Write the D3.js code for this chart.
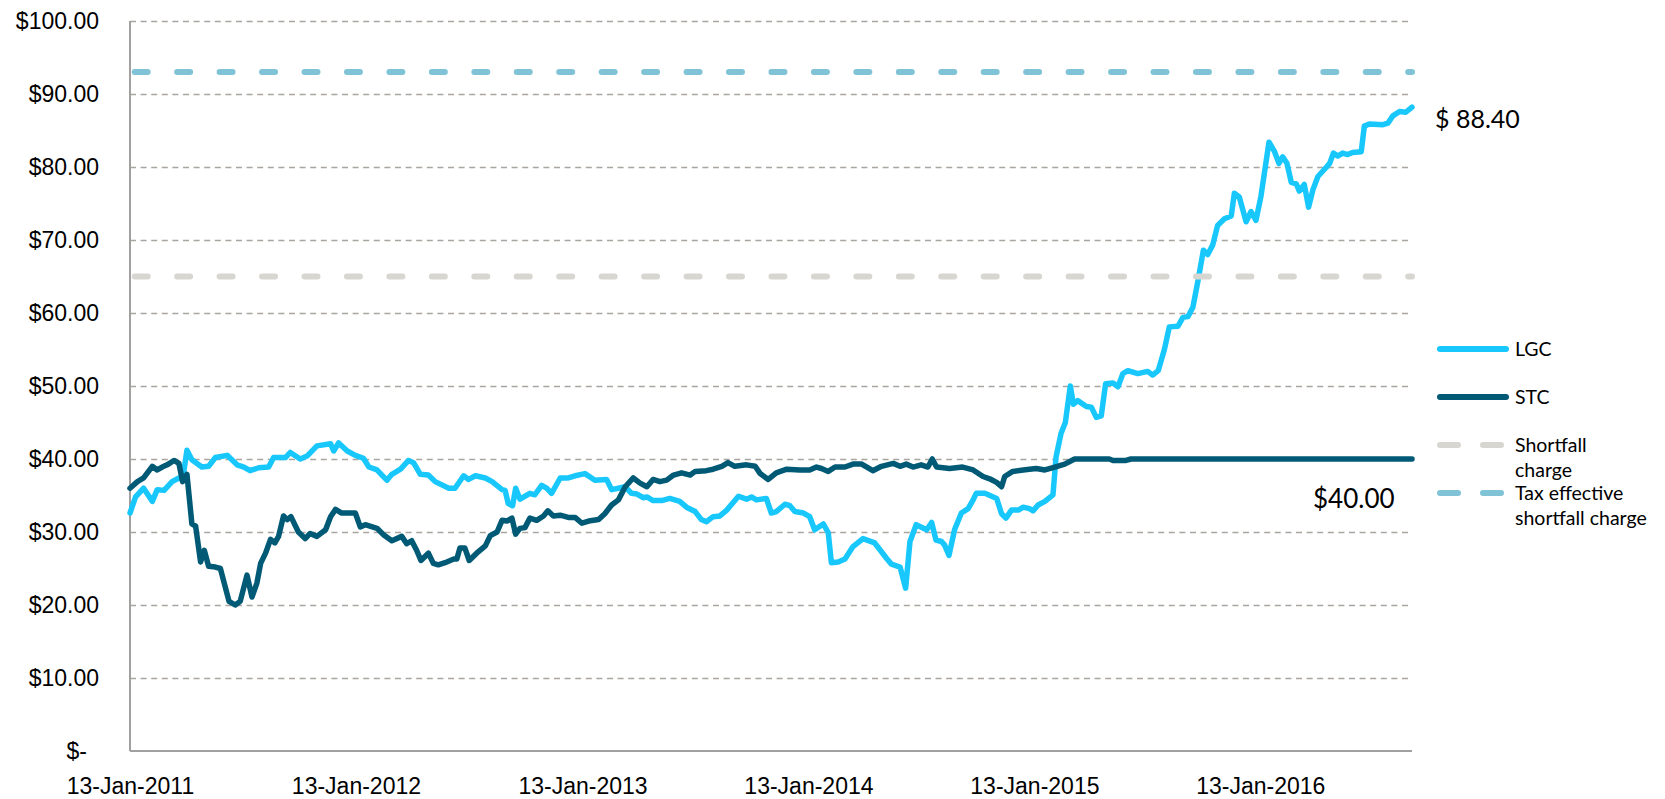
<!DOCTYPE html>
<html>
<head>
<meta charset="utf-8">
<script src="https://cdn.jsdelivr.net/npm/d3@7"></script>
<style>
    body { margin: 0; background: #ffffff; }
    svg { display: block; font-family: Lato, 'Open Sans', sans-serif; }
</style>
</head>
<body>
<svg id="chart" width="1665" height="799"></svg>
<script>
var lgcDates = [
    '2011-01-13', '2011-01-22', '2011-02-04', '2011-02-18', '2011-02-26', '2011-03-09', '2011-03-22', '2011-04-02', '2011-04-08', '2011-04-15',
    '2011-04-23', '2011-05-09', '2011-05-20', '2011-05-31', '2011-06-19', '2011-07-05', '2011-07-16', '2011-07-26', '2011-08-09', '2011-08-25',
    '2011-09-02', '2011-09-21', '2011-09-29', '2011-10-15', '2011-10-26', '2011-11-11', '2011-12-03', '2011-12-08', '2011-12-16', '2011-12-30',
    '2012-01-12', '2012-01-25', '2012-02-03', '2012-02-16', '2012-02-24', '2012-03-03', '2012-03-11', '2012-03-25', '2012-04-07', '2012-04-15',
    '2012-04-26', '2012-05-09', '2012-05-20', '2012-06-11', '2012-06-21', '2012-07-05', '2012-07-13', '2012-07-24', '2012-08-09', '2012-08-20',
    '2012-09-05', '2012-09-10', '2012-09-15', '2012-09-22', '2012-09-27', '2012-10-04', '2012-10-20', '2012-10-28', '2012-11-08', '2012-11-16',
    '2012-11-24', '2012-12-08', '2012-12-21',
    '2013-01-01', '2013-01-17', '2013-02-02', '2013-02-21', '2013-03-01', '2013-03-12', '2013-03-23', '2013-04-02', '2013-04-11', '2013-04-21',
    '2013-04-27', '2013-05-07', '2013-05-21', '2013-06-03', '2013-06-19', '2013-06-30', '2013-07-14', '2013-07-24', '2013-08-01', '2013-08-12',
    '2013-08-23', '2013-09-03', '2013-09-22', '2013-10-05', '2013-10-13', '2013-10-21', '2013-11-06', '2013-11-14', '2013-11-22', '2013-12-06',
    '2013-12-14', '2013-12-22',
    '2014-01-05', '2014-01-15', '2014-01-23', '2014-02-06', '2014-02-14', '2014-02-19', '2014-03-02', '2014-03-13', '2014-03-26', '2014-04-11',
    '2014-04-30', '2014-05-11', '2014-05-19', '2014-05-27', '2014-06-10', '2014-06-19', '2014-06-26', '2014-07-06', '2014-07-23', '2014-07-31',
    '2014-08-07', '2014-08-16', '2014-08-21', '2014-08-28', '2014-09-06', '2014-09-17', '2014-09-28', '2014-10-06', '2014-10-11', '2014-10-25',
    '2014-11-13', '2014-11-21', '2014-11-28', '2014-12-07', '2014-12-18', '2014-12-26',
    '2015-01-05', '2015-01-11', '2015-01-19', '2015-01-30', '2015-02-12', '2015-02-17', '2015-02-25', '2015-03-04', '2015-03-12', '2015-03-17',
    '2015-03-24', '2015-04-07', '2015-04-15', '2015-04-23', '2015-05-01', '2015-05-08', '2015-05-20', '2015-05-28', '2015-06-05', '2015-06-13',
    '2015-06-29', '2015-07-15', '2015-07-23', '2015-08-01', '2015-08-11', '2015-08-19', '2015-09-02', '2015-09-10', '2015-09-18', '2015-09-26',
    '2015-10-04', '2015-10-13', '2015-10-20', '2015-10-28', '2015-11-05', '2015-11-16', '2015-11-27', '2015-12-02', '2015-12-10', '2015-12-21',
    '2015-12-29',
    '2016-01-06', '2016-01-14', '2016-01-27', '2016-02-05', '2016-02-12', '2016-02-18', '2016-02-25', '2016-03-03', '2016-03-11', '2016-03-16',
    '2016-03-24', '2016-03-31', '2016-04-07', '2016-04-15', '2016-04-28', '2016-05-04', '2016-05-10', '2016-05-17', '2016-05-25', '2016-06-02',
    '2016-06-10', '2016-06-24', '2016-06-29', '2016-07-07', '2016-07-29', '2016-08-06', '2016-08-14', '2016-08-25', '2016-09-04', '2016-09-14'
];
var lgcValues = [
    32.6, 34.8, 36.0, 34.2, 35.8, 35.7, 36.9, 37.4, 37.2, 41.2,
    39.9, 38.9, 39.0, 40.2, 40.5, 39.2, 38.9, 38.4, 38.8, 38.9,
    40.2, 40.2, 40.9, 40.0, 40.4, 41.8, 42.1, 41.1, 42.2, 41.1,
    40.5, 40.1, 38.9, 38.5, 37.8, 37.1, 37.9, 38.6, 39.8, 39.5,
    37.9, 37.8, 36.9, 36.0, 36.0, 37.7, 37.2, 37.7, 37.4, 36.9,
    35.8, 35.7, 33.9, 33.6, 36.0, 34.5, 35.3, 35.1, 36.4, 36.0,
    35.3, 37.4, 37.4,
    37.7, 38.0, 37.1, 37.2, 35.8, 36.0, 36.2, 35.3, 35.2, 34.7,
    34.8, 34.3, 34.3, 34.6, 34.2, 33.4, 32.8, 31.7, 31.4, 32.1,
    32.2, 33.0, 34.9, 34.5, 34.8, 34.4, 34.6, 32.6, 32.8, 33.8,
    33.6, 32.8,
    32.6, 32.1, 30.3, 31.1, 29.9, 25.8, 25.9, 26.3, 28.0, 29.1,
    28.5, 27.3, 26.4, 25.6, 25.2, 22.3, 28.7, 31.0, 30.3, 31.3,
    28.9, 28.7, 28.2, 26.8, 30.3, 32.6, 33.2, 34.4, 35.3, 35.3,
    34.6, 32.5, 31.9, 33.0, 33.0, 33.4,
    33.2, 32.9, 33.7, 34.2, 35.1, 40.3, 43.5, 45.0, 50.0, 47.5,
    48.0, 47.2, 47.1, 45.7, 45.9, 50.3, 50.4, 49.9, 51.7, 52.1,
    51.7, 52.0, 51.5, 52.1, 55.0, 58.1, 58.2, 59.4, 59.5, 60.8,
    64.3, 68.6, 68.0, 69.3, 72.0, 72.9, 73.3, 76.4, 75.9, 72.5,
    73.9,
    72.7, 76.0, 83.4, 82.1, 80.5, 81.4, 80.5, 77.9, 77.7, 76.7,
    77.6, 74.5, 76.9, 78.7, 79.9, 80.5, 81.9, 81.5, 81.9, 81.7,
    82.0, 82.1, 85.6, 85.9, 85.8, 86.0, 87.0, 87.6, 87.5, 88.2
];

var stcDates = [
    '2011-01-13', '2011-01-25', '2011-02-04', '2011-02-18', '2011-02-26', '2011-03-06', '2011-03-14', '2011-03-25', '2011-04-02', '2011-04-08',
    '2011-04-15', '2011-04-23', '2011-04-29', '2011-05-07', '2011-05-13', '2011-05-20', '2011-05-31', '2011-06-08', '2011-06-22', '2011-07-02',
    '2011-07-10', '2011-07-21', '2011-07-29', '2011-08-06', '2011-08-12', '2011-08-20', '2011-08-28', '2011-09-04', '2011-09-10', '2011-09-18',
    '2011-09-24', '2011-09-30', '2011-10-12', '2011-10-23', '2011-10-31', '2011-11-11', '2011-11-25', '2011-12-03', '2011-12-11', '2011-12-21',
    '2012-01-12', '2012-01-20', '2012-01-28', '2012-02-16', '2012-02-27', '2012-03-11', '2012-03-27', '2012-04-04', '2012-04-12', '2012-04-20',
    '2012-04-27', '2012-05-09', '2012-05-17', '2012-05-25', '2012-06-05', '2012-06-19', '2012-06-24', '2012-06-29', '2012-07-07', '2012-07-14',
    '2012-07-26', '2012-08-09', '2012-08-17', '2012-08-28', '2012-09-05', '2012-09-13', '2012-09-21', '2012-09-27', '2012-10-04', '2012-10-12',
    '2012-10-20', '2012-10-31', '2012-11-11', '2012-11-18', '2012-11-27', '2012-12-08', '2012-12-21',
    '2013-01-01', '2013-01-12', '2013-01-23', '2013-02-08', '2013-02-18', '2013-03-01', '2013-03-12', '2013-03-23', '2013-04-05', '2013-04-16',
    '2013-04-27', '2013-05-07', '2013-05-18', '2013-05-29', '2013-06-09', '2013-06-22', '2013-07-06', '2013-07-14', '2013-08-01', '2013-08-12',
    '2013-08-26', '2013-09-05', '2013-09-16', '2013-10-05', '2013-10-19', '2013-10-27', '2013-11-09', '2013-11-22', '2013-12-09', '2013-12-30',
    '2014-01-15', '2014-01-26', '2014-02-03', '2014-02-14', '2014-02-25', '2014-03-13', '2014-03-26', '2014-04-09', '2014-04-27', '2014-05-11',
    '2014-05-30', '2014-06-10', '2014-06-20', '2014-07-01', '2014-07-14', '2014-07-25', '2014-08-01', '2014-08-08', '2014-08-29', '2014-09-19',
    '2014-10-06', '2014-10-22', '2014-11-04', '2014-11-13', '2014-11-21', '2014-11-26', '2014-12-09', '2014-12-26',
    '2015-01-05', '2015-01-16', '2015-01-30', '2015-02-15', '2015-03-03', '2015-03-19', '2015-05-14', '2015-05-20', '2015-06-10', '2015-06-18',
    '2016-09-14'
];
var stcValues = [
    36.0, 36.9, 37.4, 39.0, 38.5, 38.9, 39.2, 39.8, 39.4, 36.9,
    37.9, 31.1, 30.8, 25.9, 27.5, 25.3, 25.2, 25.0, 20.5, 20.0,
    20.5, 24.1, 21.1, 23.0, 25.7, 27.1, 29.0, 28.5, 29.4, 32.2,
    31.7, 32.1, 30.0, 29.1, 29.8, 29.4, 30.3, 32.1, 33.1, 32.6,
    32.6, 30.7, 31.0, 30.5, 29.6, 28.8, 29.4, 28.4, 28.8, 27.5,
    26.1, 27.1, 25.7, 25.5, 25.8, 26.3, 26.3, 27.8, 27.8, 26.1,
    27.1, 28.1, 29.5, 30.0, 31.6, 31.5, 31.9, 29.7, 30.5, 30.6,
    31.9, 31.6, 32.2, 32.9, 32.2, 32.3, 32.0,
    32.0, 31.2, 31.5, 31.7, 32.5, 33.7, 34.4, 36.2, 37.4, 36.7,
    36.2, 37.2, 36.9, 37.1, 37.8, 38.1, 37.8, 38.3, 38.4, 38.6,
    39.0, 39.5, 39.0, 39.2, 39.0, 38.0, 37.2, 38.1, 38.6, 38.5,
    38.5, 38.9, 38.7, 38.3, 38.9, 38.9, 39.3, 39.3, 38.4, 39.0,
    39.4, 39.0, 39.3, 38.9, 39.2, 38.9, 40.0, 38.9, 38.7, 38.9,
    38.5, 37.6, 37.2, 36.8, 36.2, 37.6, 38.3, 38.5,
    38.6, 38.7, 38.5, 38.9, 39.3, 40.0, 40.0, 39.8, 39.8, 40.0,
    40.0
];

var shortfallCharge = 65;
var taxEffectiveCharge = 93;

var yTickValues = [0, 10, 20, 30, 40, 50, 60, 70, 80, 90, 100];
var xTickDates = ['2011-01-13', '2012-01-13', '2013-01-13', '2014-01-13', '2015-01-13', '2016-01-13'];
var xDomain = ['2011-01-13', '2016-09-14'];

var legendLabels = [['LGC'], ['STC'], ['Shortfall', 'charge'], ['Tax effective', 'shortfall charge']];
var lgcEndLabel = '$ 88.40';
var stcEndLabel = '$40.00';

var CONFIG = {
    left: 130,
    right: 1412,
    top: 21,
    bottom: 751,
    lgcColor: '#18c7fc',
    stcColor: '#005a75',
    shortfallColor: '#d7d6d1',
    taxColor: '#80c3d7',
    gridColor: '#a9a59f',
    axisColor: '#a0a0a0',
    seriesWidth: 5.5,
    dashWidth: 6
};

var parseDate = d3.timeParse('%Y-%m-%d');

/**
 * @param {string[]} dates
 * @param {number[]} values
 * @returns {{date: Date, value: number}[]}
 */
function toPoints(dates, values) {
    return dates.map(function (d, i) {
        return {date: parseDate(d), value: values[i]};
    });
}

var svg = d3.select('#chart');

var x = d3.scaleTime()
    .domain(xDomain.map(parseDate))
    .range([CONFIG.left, CONFIG.right]);

var y = d3.scaleLinear()
    .domain([0, 100])
    .range([CONFIG.bottom, CONFIG.top]);

// dashed horizontal gridlines, the zero line is the axis itself
svg.append('g')
    .attr('transform', 'translate(' + CONFIG.left + ',0)')
    .call(d3.axisLeft(y)
        .tickValues(yTickValues.filter(function (v) { return v > 0; }))
        .tickSize(-(CONFIG.right - CONFIG.left))
        .tickFormat(''))
    .call(function (g) {
        g.select('.domain').remove();
        g.selectAll('line')
            .attr('stroke', CONFIG.gridColor)
            .attr('stroke-width', 1.6)
            .attr('stroke-dasharray', '6,4.6');
    });

// y labels
svg.append('g')
    .attr('transform', 'translate(' + CONFIG.left + ',0)')
    .call(d3.axisLeft(y)
        .tickValues(yTickValues)
        .tickSize(0)
        .tickPadding(31)
        .tickFormat(function (v) {
            return v === 0 ? '$-' : '$' + v.toFixed(2);
        }))
    .call(function (g) {
        g.select('.domain').remove();
        g.selectAll('text')
            .style('font-size', '23px')
            .style('fill', '#000')
            .attr('dx', function (v) { return v === 0 ? -12 : 0; });
    });

// x labels
svg.append('g')
    .attr('transform', 'translate(0,' + CONFIG.bottom + ')')
    .call(d3.axisBottom(x)
        .tickValues(xTickDates.map(parseDate))
        .tickSize(0)
        .tickPadding(27)
        .tickFormat(d3.timeFormat('%d-%b-%Y')))
    .call(function (g) {
        g.select('.domain').remove();
        g.selectAll('text')
            .style('font-size', '23px')
            .style('fill', '#000');
    });

// axis lines
svg.append('line')
    .attr('x1', CONFIG.left).attr('x2', CONFIG.left)
    .attr('y1', y(100)).attr('y2', CONFIG.bottom)
    .attr('stroke', CONFIG.axisColor)
    .attr('stroke-width', 2);
svg.append('line')
    .attr('x1', CONFIG.left).attr('x2', CONFIG.right)
    .attr('y1', CONFIG.bottom).attr('y2', CONFIG.bottom)
    .attr('stroke', CONFIG.axisColor)
    .attr('stroke-width', 2);

var line = d3.line()
    .x(function (d) { return x(d.date); })
    .y(function (d) { return y(d.value); });

var series = [
    {points: toPoints(lgcDates, lgcValues), color: CONFIG.lgcColor},
    {points: toPoints(stcDates, stcValues), color: CONFIG.stcColor}
];

svg.selectAll('path.series')
    .data(series)
    .enter()
    .append('path')
    .attr('class', 'series')
    .attr('d', function (d) { return line(d.points); })
    .style('fill', 'none')
    .style('stroke', function (d) { return d.color; })
    .style('stroke-width', CONFIG.seriesWidth)
    .style('stroke-linejoin', 'round')
    .style('stroke-linecap', 'round');

// shortfall charge levels
var levels = [
    {value: shortfallCharge, color: CONFIG.shortfallColor},
    {value: taxEffectiveCharge, color: CONFIG.taxColor}
];

svg.selectAll('line.level')
    .data(levels)
    .enter()
    .append('line')
    .attr('class', 'level')
    .attr('x1', CONFIG.left + 4.7)
    .attr('x2', CONFIG.right)
    .attr('y1', function (d) { return y(d.value); })
    .attr('y2', function (d) { return y(d.value); })
    .style('stroke', function (d) { return d.color; })
    .style('stroke-width', CONFIG.dashWidth)
    .style('stroke-linecap', 'round')
    .style('stroke-dasharray', '13,29.45');

// end-of-series values
var lastLgc = series[0].points[series[0].points.length - 1];
var lastStc = series[1].points[series[1].points.length - 1];

svg.append('text')
    .attr('x', x(lastLgc.date) + 23)
    .attr('y', y(lastLgc.value) + 21)
    .style('font-size', '25px')
    .text(lgcEndLabel);

svg.append('text')
    .attr('x', x(lastStc.date) - 99)
    .attr('y', y(lastStc.value) + 49)
    .style('font-size', '26px')
    .text(stcEndLabel);

// legend
var legendItems = [
    {labels: legendLabels[0], color: CONFIG.lgcColor, dashed: false, y: 349},
    {labels: legendLabels[1], color: CONFIG.stcColor, dashed: false, y: 397},
    {labels: legendLabels[2], color: CONFIG.shortfallColor, dashed: true, y: 445},
    {labels: legendLabels[3], color: CONFIG.taxColor, dashed: true, y: 493}
];

var legend = svg.append('g').attr('class', 'legend');

var items = legend.selectAll('g')
    .data(legendItems)
    .enter()
    .append('g')
    .attr('transform', function (d) { return 'translate(1437,' + d.y + ')'; });

items.append('line')
    .attr('x1', 3)
    .attr('x2', 69)
    .style('stroke', function (d) { return d.color; })
    .style('stroke-width', CONFIG.dashWidth)
    .style('stroke-linecap', 'round')
    .style('stroke-dasharray', function (d) { return d.dashed ? '18,25' : null; });

items.append('text')
    .attr('x', 78)
    .attr('y', 6.5)
    .style('font-size', '19.5px')
    .style('fill', '#000')
    .selectAll('tspan')
    .data(function (d) { return d.labels; })
    .enter()
    .append('tspan')
    .attr('x', 78)
    .attr('dy', function (d, i) { return i === 0 ? 0 : 25; })
    .text(function (d) { return d; });
</script>
</body>
</html>
